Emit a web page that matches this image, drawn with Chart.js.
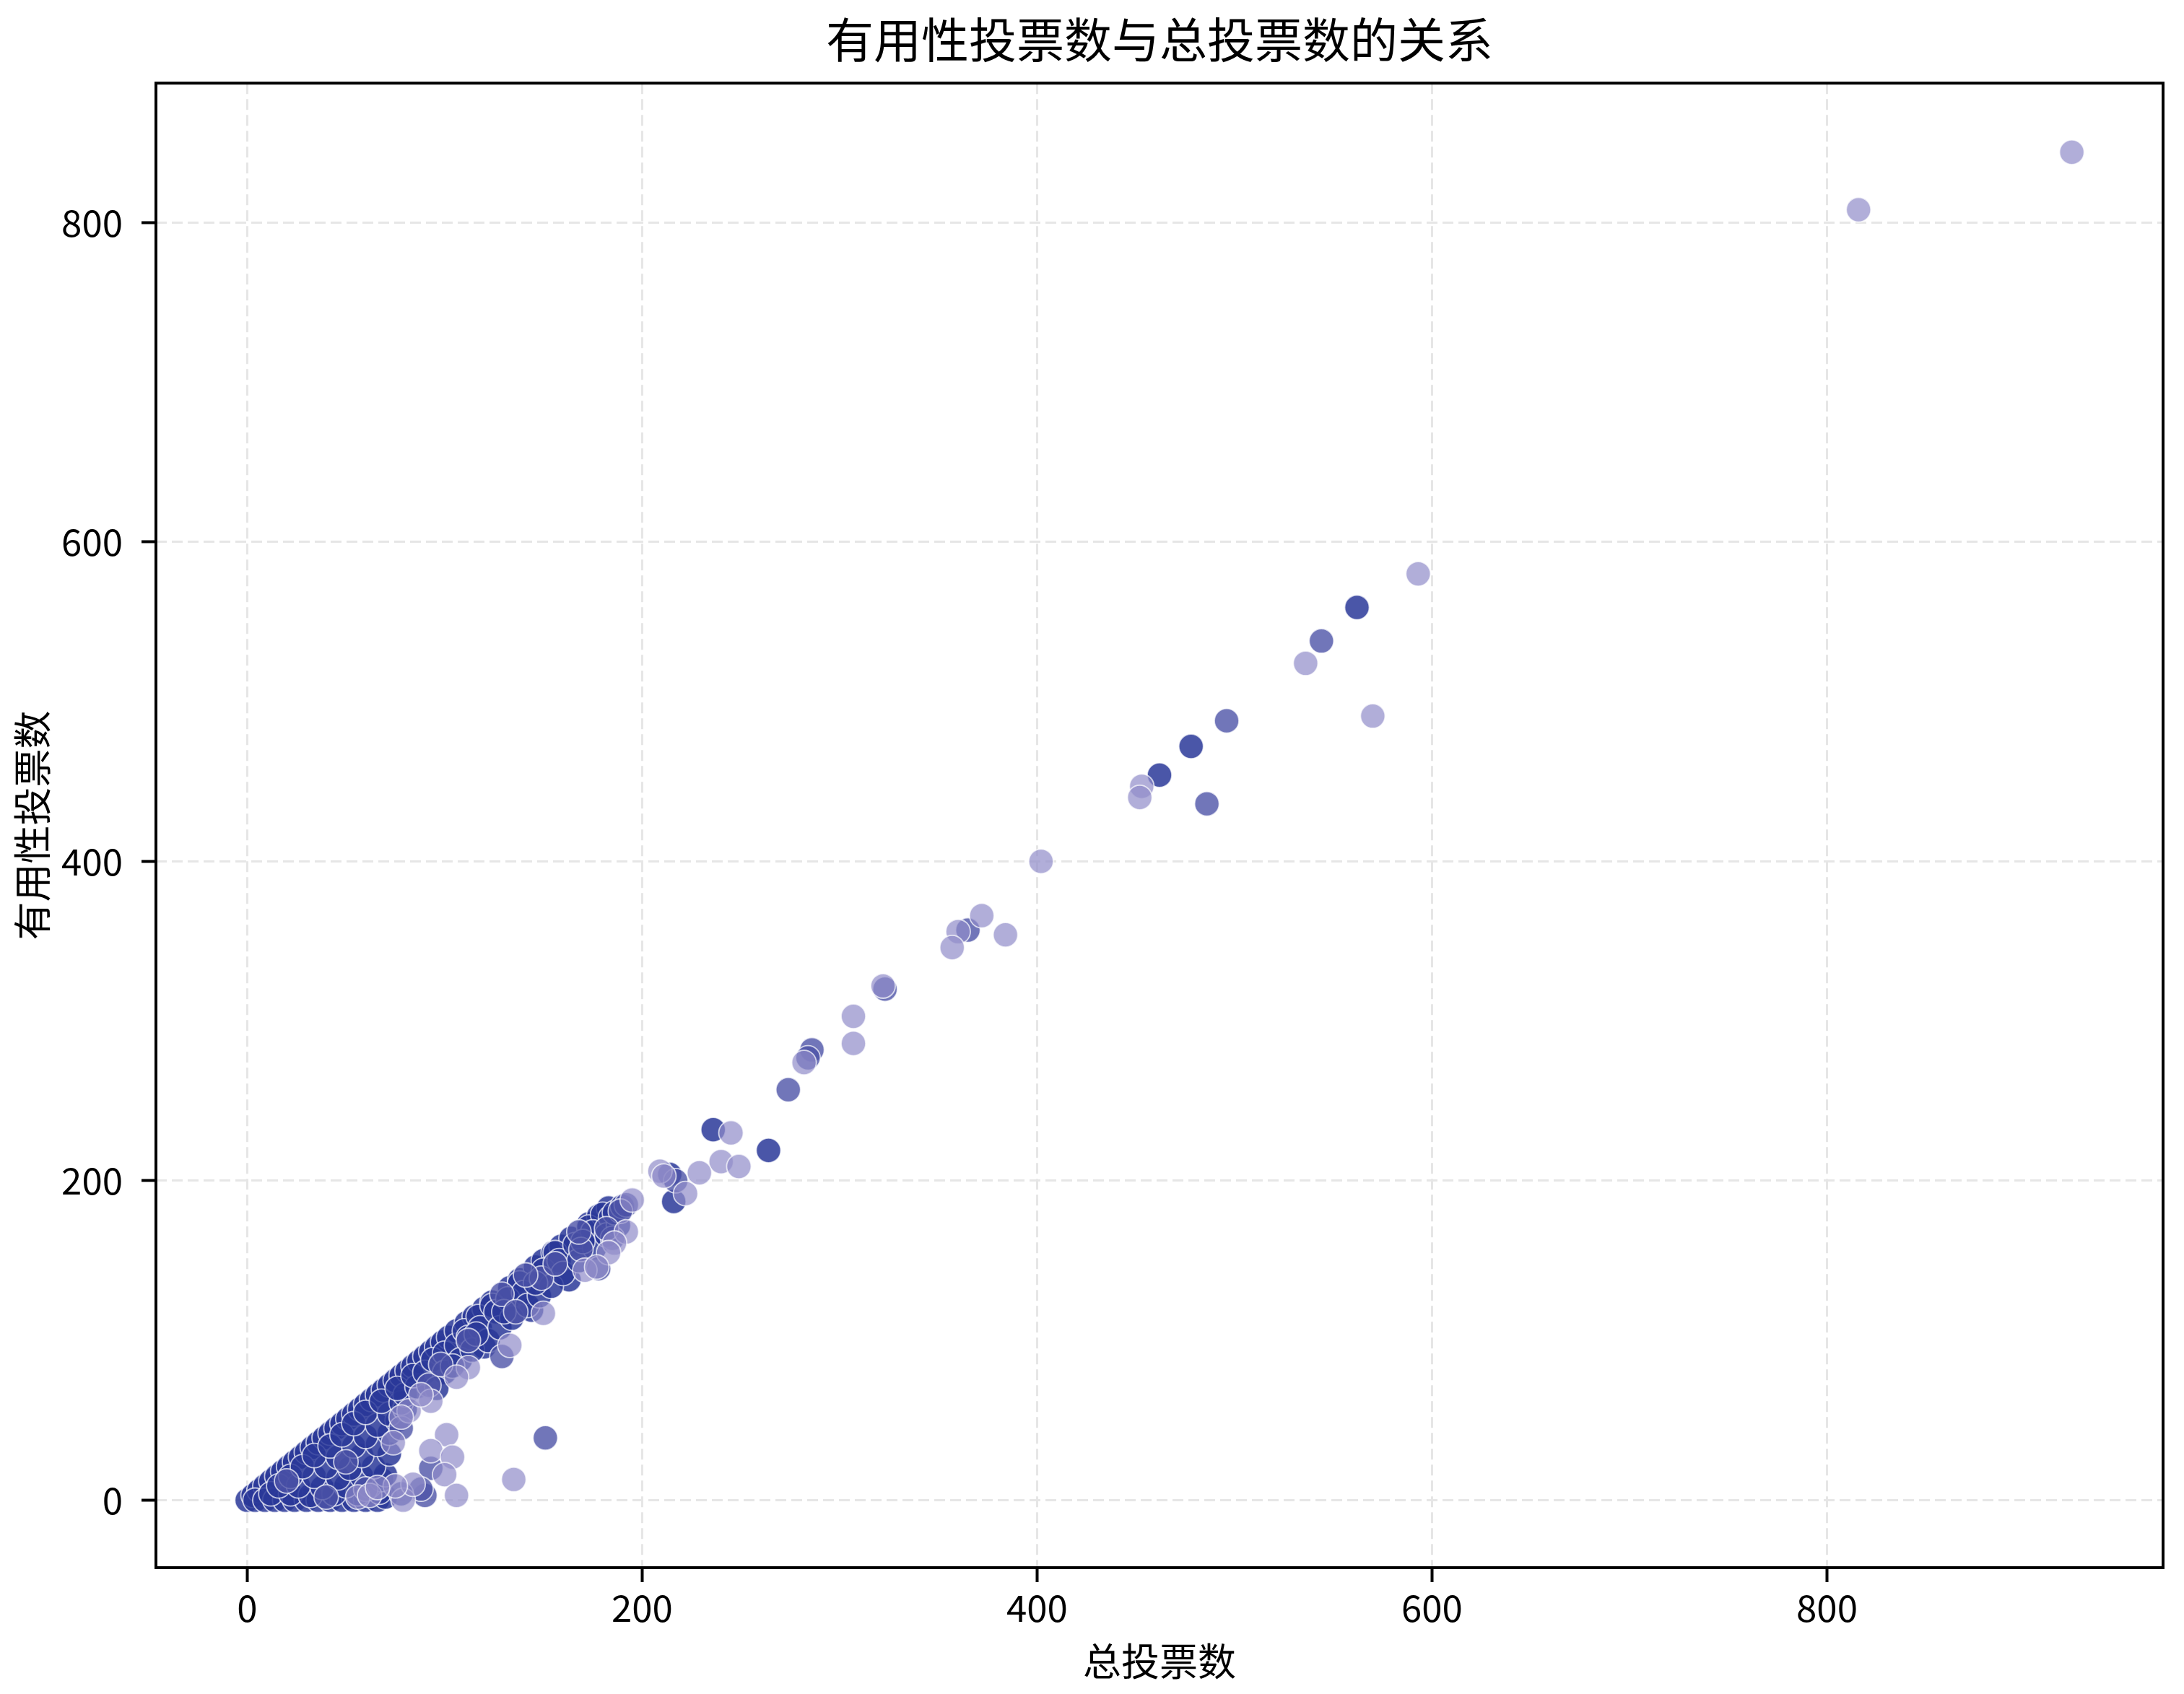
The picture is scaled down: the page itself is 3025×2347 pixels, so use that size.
<!DOCTYPE html>
<html>
<head>
<meta charset="utf-8">
<title>有用性投票数与总投票数的关系</title>
<script src="https://cdn.jsdelivr.net/npm/chart.js@4.4.0/dist/chart.umd.min.js"></script>
<style>
  html, body { margin: 0; padding: 0; background: #fff; }
  canvas { display: block; }
</style>
</head>
<body>
<canvas id="voteChart" width="3025" height="2347"></canvas>
<script>
// tick labels
const xTicks = [0, 200, 400, 600, 800];
const yTicks = [0, 200, 400, 600, 800];

// light points: total votes / helpful votes
const lightTotal = [
    924, 816, 593, 536, 570, 453, 452, 402, 372, 360,
    357, 384, 322, 307, 307, 282, 245, 240, 249, 229,
    222, 209, 211, 195, 192, 186, 183, 171, 177, 150,
    133, 112, 106, 93, 82, 88, 101, 93, 104, 100,
    106, 135, 79, 84, 75, 56, 62, 66, 74, 78
];
const lightHelpful = [
    844, 808, 580, 524, 491, 447, 440, 400, 366, 356,
    346, 354, 322, 303, 286, 274, 230, 212, 209, 205,
    192, 206, 203, 188, 168, 161, 155, 144, 146, 117,
    97, 83, 77, 62, 56, 66, 41, 31, 27, 16,
    3, 13, 0, 10, 9, 2, 3, 8, 36, 52
];

// medium points
const mediumTotal = [
    544, 496, 486, 365, 323, 286, 284, 274, 217, 192,
    189, 169, 149, 129, 151, 93, 90, 88, 78, 185,
    178, 129, 141, 168, 78, 92, 40, 50, 60, 20,
    112, 156, 98, 136, 182
];
const mediumHelpful = [
    538, 488, 436, 357, 320, 282, 277, 257, 200, 185,
    181, 157, 139, 90, 39, 20, 3, 7, 4, 164,
    145, 129, 141, 168, 45, 72, 2, 24, 7, 12,
    100, 148, 85, 118, 170
];

// dark points
const darkTotal = [
    0, 3, 6, 9, 12, 15, 18, 21, 24, 27, 30, 33, 36, 39, 42, 45, 48, 51, 54, 57,
    60, 63, 66, 69, 72, 75, 78, 81, 84, 87, 90, 93, 96, 99,
    102, 106, 111, 115, 120, 124, 133, 138, 146, 150, 155, 159, 164, 173, 178, 183,
    4, 9, 14, 19, 24, 30, 36, 42, 48, 54, 60, 66, 70,
    12, 22, 32, 44, 56, 67,
    16, 26, 38, 50, 62, 68,
    22, 34, 46, 58, 70,
    28, 40, 52, 64,
    34, 46, 58, 72,
    42, 54, 66,
    48, 60, 72,
    54, 66, 76,
    60, 72, 80,
    68, 78, 80,
    76, 86,
    84, 90,
    94, 100, 106,
    110, 117, 120, 124, 144, 138, 163, 156, 173, 180,
    112, 118, 126, 132, 140, 150, 158, 166, 175, 184,
    100, 108, 114, 122, 128, 134, 142, 148, 154, 160, 168, 176, 182, 188,
    96, 104, 116, 130, 146, 170, 186, 190,
    214, 216, 236, 264, 478, 562, 462
];
const darkHelpful = [
    0, 3, 6, 9, 12, 15, 18, 21, 24, 27, 30, 33, 36, 39, 42, 45, 48, 51, 54, 57,
    60, 63, 66, 69, 72, 75, 78, 81, 84, 87, 90, 93, 96, 99,
    102, 106, 111, 115, 120, 124, 133, 138, 146, 150, 155, 159, 164, 173, 178, 183,
    0, 0, 0, 0, 0, 0, 0, 0, 0, 0, 0, 0, 2,
    4, 4, 3, 4, 4, 5,
    9, 9, 8, 9, 9, 13,
    15, 15, 14, 15, 16,
    21, 21, 20, 21,
    28, 27, 28, 29,
    34, 34, 35,
    41, 40, 42,
    48, 47, 50,
    55, 54, 57,
    62, 61, 66,
    70, 71,
    78, 80,
    88, 92, 97,
    106, 115, 96, 122, 119, 136, 138, 155, 171, 179,
    102, 108, 118, 126, 130, 144, 150, 160, 168, 177,
    80, 88, 94, 100, 108, 114, 122, 128, 134, 142, 150, 158, 166, 172,
    70, 84, 104, 118, 136, 162, 180, 184,
    204, 187, 232, 219, 472, 559, 454
];

function toPoints(xs, ys) {
    return xs.map((x, i) => ({ x: x, y: ys[i] }));
}

const cjkFont = "'Noto Sans CJK SC', 'Noto Sans CJK JP', sans-serif";

// black box round the plot area
const framePlugin = {
    id: "frame",
    afterDatasetsDraw(chart) {
        const { ctx, chartArea } = chart;
        ctx.save();
        ctx.strokeStyle = "#000";
        ctx.lineWidth = 4;
        ctx.strokeRect(chartArea.left, chartArea.top,
            chartArea.right - chartArea.left, chartArea.bottom - chartArea.top);
        ctx.restore();
    }
};

function dataset(xs, ys, color) {
    return {
        data: toPoints(xs, ys),
        backgroundColor: color,
        borderColor: "rgba(255,255,255,0.7)",
        borderWidth: 1.8,
        pointRadius: 17,
        pointHoverRadius: 17
    };
}

const ctx = document.getElementById("voteChart").getContext("2d");
new Chart(ctx, {
    type: "scatter",
    data: {
        datasets: [
            dataset(lightTotal, lightHelpful, "rgba(144,139,201,0.7)"),
            dataset(mediumTotal, mediumHelpful, "rgba(78,84,168,0.8)"),
            dataset(darkTotal, darkHelpful, "rgba(42,56,153,0.85)")
        ]
    },
    plugins: [framePlugin],
    options: {
        responsive: false,
        devicePixelRatio: 1,
        animation: false,
        events: [],
        layout: { padding: { left: 0, right: 29, top: 0, bottom: 0 } },
        plugins: {
            legend: { display: false },
            tooltip: { enabled: false },
            title: {
                display: true,
                text: "有用性投票数与总投票数的关系",
                fullSize: false,
                color: "#000",
                font: { family: cjkFont, size: 66, weight: "normal" },
                padding: { top: 15, bottom: 21 }
            }
        },
        scales: {
            x: {
                type: "linear",
                min: -46.2,
                max: 970.2,
                afterBuildTicks: (scale) => {
                    scale.ticks = xTicks.map(v => ({ value: v }));
                },
                afterFit: (scale) => { scale.height = 175; },
                grid: {
                    color: "#e6e6e6",
                    lineWidth: 3,
                    tickColor: "#000",
                    tickWidth: 4,
                    tickLength: 20
                },
                border: { display: false, dash: [15, 7] },
                ticks: {
                    color: "#000",
                    font: { family: cjkFont, size: 51 },
                    padding: 5,
                    maxRotation: 0
                },
                title: {
                    display: true,
                    text: "总投票数",
                    color: "#000",
                    font: { family: cjkFont, size: 53 },
                    padding: { top: 0, bottom: 13 }
                }
            },
            y: {
                type: "linear",
                min: -42.25,
                max: 887.25,
                afterBuildTicks: (scale) => {
                    scale.ticks = yTicks.map(v => ({ value: v }));
                },
                afterFit: (scale) => { scale.width = 216; },
                grid: {
                    color: "#e6e6e6",
                    lineWidth: 3,
                    tickColor: "#000",
                    tickWidth: 4,
                    tickLength: 20
                },
                border: { display: false, dash: [15, 7] },
                ticks: {
                    color: "#000",
                    font: { family: cjkFont, size: 51 },
                    padding: 26
                },
                title: {
                    display: true,
                    text: "有用性投票数",
                    color: "#000",
                    font: { family: cjkFont, size: 53 },
                    padding: { top: 13, bottom: 0 }
                }
            }
        }
    }
});
</script>
</body>
</html>
